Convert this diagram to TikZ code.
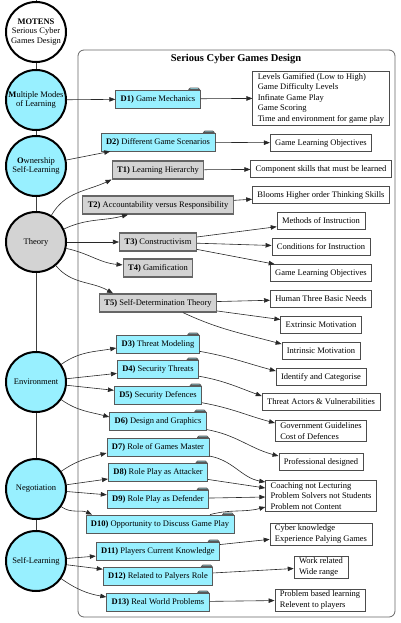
\documentclass[tikz,border=0pt]{standalone}
\usepackage{fontspec}
\setmainfont{Liberation Serif}
\usepackage{tikz}
\usetikzlibrary{arrows.meta, positioning}
\definecolor{GameCyan}  {RGB}{152, 240, 255}
\definecolor{TheoryGrey}{RGB}{211, 211, 211}
\definecolor{EdgeGrey}  {RGB}{ 40,  40,  40}
\newcommand{\boxfont}{\fontsize{8.5}{10.5}\selectfont}
\newcommand{\pillarfont}{\fontsize{8.5}{9.5}\selectfont}

\begin{document}
\begin{tikzpicture}[
    x=1pt, y=1pt,
    pillar/.style={circle, draw=black, line width=2pt, minimum size=60pt, inner sep=0pt, align=center, font=\pillarfont},
    design/.style={draw=black!65, fill=GameCyan, line width=0.8pt, minimum height=18pt, inner xsep=5pt, font=\boxfont},
    theorybox/.style={draw=black!60, fill=TheoryGrey, line width=1.2pt, minimum height=18pt, inner xsep=5pt, font=\boxfont},
    outcome/.style={draw=black!70, fill=white, line width=0.6pt, minimum height=17pt, inner xsep=5pt, inner ysep=2pt, align=left, font=\boxfont},
    tab/.style={draw=black!65, fill=GameCyan, line width=0.8pt, line join=round},
    cluster/.style={draw=black!60, line width=0.8pt, rounded corners=6pt},
    spine/.style={line width=0.9pt, black!75},
    arrow/.style={-{Triangle[length=6pt,width=4.5pt]}, line width=0.6pt, EdgeGrey}
]
    \useasboundingbox (0,0) rectangle (400,-623);

    % Cluster
    \draw[cluster] (78,-50) rectangle (395,-617);
    \node[font=\fontsize{10.5}{12}\selectfont\bfseries] (title) at (236,-59) {Serious Cyber Games Design};

    % Pillars
    \node[pillar, fill=white] (motens) at (36,-32) {\textbf{MOTENS}\\Serious Cyber\\Games Design};
    \node[pillar, fill=GameCyan] (modes) at (36,-100) {\textbf{M}ultiple Modes\\of Learning};
    \node[pillar, fill=GameCyan] (owner) at (36,-166) {\textbf{O}wnership\\Self-Learning};
    \node[pillar, fill=TheoryGrey] (theory) at (36,-242) {Theory};
    \node[pillar, fill=GameCyan] (environ) at (36,-382) {Environment};
    \node[pillar, fill=GameCyan] (negot) at (36,-489) {Negotiation};
    \node[pillar, fill=GameCyan] (selflearn) at (36,-561) {Self-Learning};

    \coordinate (top) at (36,0);
    \draw[spine] (top) -- (motens) -- (modes) -- (owner) -- (theory) -- (environ) -- (negot) -- (selflearn);

    % Design elements and theories
    \node[design] (d1) at (158,-99) {\textbf{D1)} Game Mechanics};
    \node[design] (d2) at (158,-142) {\textbf{D2)} Different Game Scenarios};
    \node[theorybox] (t1) at (158,-170) {\textbf{T1)} Learning Hierarchy};
    \node[theorybox] (t2) at (158,-205) {\textbf{T2)} Accountability versus Responsibility};
    \node[theorybox] (t3) at (158,-242) {\textbf{T3)} Constructivism};
    \node[theorybox] (t4) at (158,-268) {\textbf{T4)} Gamification};
    \node[theorybox] (t5) at (158,-303) {\textbf{T5)} Self-Determination Theory};
    \node[design] (d3) at (158,-344) {\textbf{D3)} Threat Modeling};
    \node[design] (d4) at (158,-369) {\textbf{D4)} Security Threats};
    \node[design] (d5) at (158,-395) {\textbf{D5)} Security Defences};
    \node[design] (d6) at (158,-421) {\textbf{D6)} Design and Graphics};
    \node[design] (d7) at (158,-447) {\textbf{D7)} Role of Games Master};
    \node[design] (d8) at (158,-472) {\textbf{D8)} Role Play as Attacker};
    \node[design] (d9) at (158,-499) {\textbf{D9)} Role Play as Defender};
    \node[design] (d10) at (160,-524) {\textbf{D10)} Opportunity to Discuss Game Play};
    \node[design] (d11) at (158,-551) {\textbf{D11)} Players Current Knowledge};
    \node[design] (d12) at (158,-576) {\textbf{D12)} Related to Palyers Role};
    \node[design] (d13) at (158,-602) {\textbf{D13)} Real World Problems};

    % folder tabs
    \foreach \i in {1,...,13}
        \draw[tab] ([xshift=-12pt]d\i.north east) -- ++(1.5pt,1.5pt) -- ++(8pt,0) -- ++(1.5pt,-1.5pt) -- cycle;

    % Outcomes
    \node[outcome] (levels) at (321,-98) {Levels Gamified (Low to High)\\Game Difficulty Levels\\Infinate Game Play\\Game Scoring\\Time and environment for game play};
    \node[outcome] (objectA) at (321,-143) {Game Learning Objectives};
    \node[outcome] (skills) at (321,-169) {Component skills that must be learned};
    \node[outcome] (blooms) at (321,-195) {Blooms Higher order Thinking Skills};
    \node[outcome] (methods) at (321,-221) {Methods of Instruction};
    \node[outcome] (conditions) at (321,-247) {Conditions for Instruction};
    \node[outcome] (objectB) at (321,-273) {Game Learning Objectives};
    \node[outcome] (needs) at (321,-299) {Human Three Basic Needs};
    \node[outcome] (extrinsic) at (321,-325) {Extrinsic Motivation};
    \node[outcome] (intrinsic) at (321,-351) {Intrinsic Motivation};
    \node[outcome] (identify) at (321,-377) {Identify and Categorise};
    \node[outcome] (actors) at (321,-402) {Threat Actors \& Vulnerabilities};
    \node[outcome] (guidelines) at (321,-431) {Government Guidelines\\Cost of Defences};
    \node[outcome] (professional) at (321,-462) {Professional designed};
    \node[outcome] (coaching) at (321,-496) {Coaching not Lecturing\\Problem Solvers not Students\\Problem not Content};
    \node[outcome] (knowledge) at (321,-534) {Cyber knowledge\\Experience Palying Games};
    \node[outcome] (workrel) at (321,-567) {Work related\\Wide range};
    \node[outcome] (problems) at (320,-600) {Problem based learning\\Relevent to players};

    % Edges: pillars to design elements
    \draw[arrow] (modes) -- (d1);
    \draw[arrow] (owner) -- (d2);
    \draw[arrow] (theory) to[out=60, in=205] (t1.south west);
    \draw[arrow] (theory) to[out=25, in=195] ([xshift=-30pt]t2.south);
    \draw[arrow] (theory) -- (t3);
    \draw[arrow] (theory) to[out=-12, in=175] (t4);
    \draw[arrow] (theory) to[out=-50, in=150] ([xshift=-45pt]t5.north);
    \draw[arrow] (environ) to[out=35, in=190] ([yshift=-4pt]d3.west);
    \draw[arrow] (environ) -- (d4);
    \draw[arrow] (environ) -- (d5);
    \draw[arrow] (environ) to[out=-35, in=165] ([yshift=4pt]d6.west);
    \draw[arrow] (negot) to[out=35, in=195] ([yshift=-6pt]d7.west);
    \draw[arrow] (negot) -- (d8);
    \draw[arrow] (negot) -- (d9);
    \draw[arrow] (negot) to[out=-35, in=155] ([xshift=-68pt]d10.north);
    \draw[arrow] (selflearn) -- (d11);
    \draw[arrow] (selflearn) -- (d12);
    \draw[arrow] (selflearn) to[out=-35, in=170] ([yshift=5pt]d13.west);

    % Edges: to outcomes
    \draw[arrow] (d1) -- (levels);
    \draw[arrow] (d2) -- (objectA);
    \draw[arrow] (t1) -- (skills);
    \draw[arrow] (t2) -- (blooms);
    \draw[arrow] (t3) -- (methods);
    \draw[arrow] (t3) -- (conditions);
    \draw[arrow] (t3) -- (objectB);
    \draw[arrow] (t5) -- (needs);
    \draw[arrow] (t5) -- (extrinsic);
    \draw[arrow] ([xshift=25pt]t5.south) to[out=-25, in=165] ([yshift=7pt]intrinsic.west);
    \draw[arrow] (d3) to[out=-10, in=165] ([yshift=6pt]identify.west);
    \draw[arrow] (d4) to[out=-10, in=160] ([yshift=6pt]actors.west);
    \draw[arrow] (d5) to[out=-10, in=165] ([yshift=8pt]guidelines.west);
    \draw[arrow] (d6) to[out=-10, in=165] ([yshift=6pt]professional.west);
    \draw[arrow] (d7) to[out=-10, in=170] ([yshift=14pt]coaching.west);
    \draw[arrow] (d8) -- ([yshift=8pt]coaching.west);
    \draw[arrow] (d9) -- ([yshift=-1pt]coaching.west);
    \draw[arrow] ([xshift=50pt]d10.north) to[out=15, in=195] ([yshift=-11pt]coaching.west);
    \draw[arrow] (d11) -- (knowledge);
    \draw[arrow] (d12) -- (workrel);
    \draw[arrow] (d13) -- (problems);

\end{tikzpicture}
\end{document}
